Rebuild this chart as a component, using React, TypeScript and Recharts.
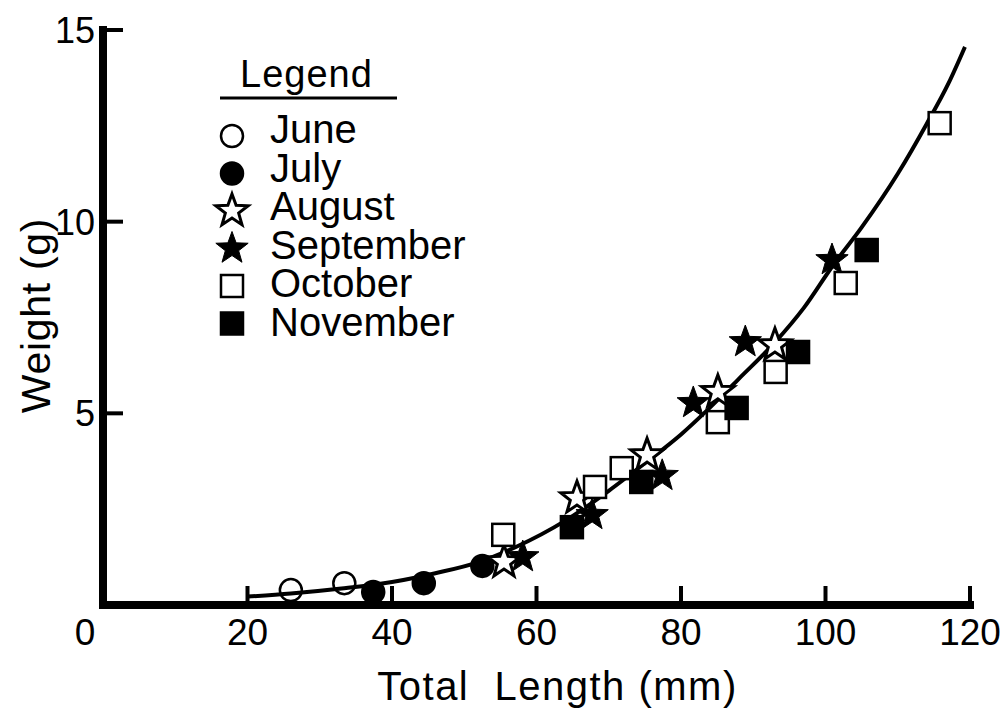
import React from "react";
import { ScatterChart, Scatter, XAxis, YAxis, Legend, Label } from "recharts";

type Pt = { x: number; y: number };

const xTicks = [0, 20, 40, 60, 80, 100, 120];
const yTicks = [5, 10, 15];

// total length (mm) vs weight (g)
const june: Pt[] = [
    { x: 26.0, y: 0.39 },
    { x: 33.4, y: 0.57 },
];
const july: Pt[] = [
    { x: 37.4, y: 0.34 },
    { x: 44.4, y: 0.57 },
    { x: 52.5, y: 1.02 },
];
const august: Pt[] = [
    { x: 55.5, y: 1.12 },
    { x: 65.6, y: 2.79 },
    { x: 75.3, y: 3.91 },
    { x: 85.1, y: 5.56 },
    { x: 93.0, y: 6.78 },
];
const september: Pt[] = [
    { x: 58.1, y: 1.25 },
    { x: 67.7, y: 2.35 },
    { x: 77.4, y: 3.37 },
    { x: 81.7, y: 5.27 },
    { x: 88.9, y: 6.86 },
    { x: 100.9, y: 9.0 },
];
const october: Pt[] = [
    { x: 55.4, y: 1.83 },
    { x: 68.1, y: 3.08 },
    { x: 71.8, y: 3.57 },
    { x: 85.1, y: 4.77 },
    { x: 93.1, y: 6.08 },
    { x: 102.8, y: 8.4 },
    { x: 115.8, y: 12.57 },
];
const november: Pt[] = [
    { x: 64.9, y: 2.03 },
    { x: 74.5, y: 3.21 },
    { x: 87.7, y: 5.14 },
    { x: 96.2, y: 6.6 },
    { x: 105.7, y: 9.26 },
];

// fitted curve
const curve: Pt[] = [
    { x: 20, y: 0.22 },
    { x: 26, y: 0.3 },
    { x: 33, y: 0.43 },
    { x: 40, y: 0.6 },
    { x: 46, y: 0.83 },
    { x: 52, y: 1.12 },
    { x: 57, y: 1.5 },
    { x: 64, y: 2.2 },
    { x: 70, y: 2.98 },
    { x: 75, y: 3.7 },
    { x: 80, y: 4.45 },
    { x: 84, y: 5.15 },
    { x: 88, y: 5.9 },
    { x: 93, y: 6.85 },
    { x: 97, y: 7.75 },
    { x: 101, y: 8.85 },
    { x: 105, y: 9.85 },
    { x: 110, y: 11.25 },
    { x: 114, y: 12.55 },
    { x: 117, y: 13.6 },
    { x: 119.3, y: 14.56 },
];

type Kind = "circle" | "star" | "square";

const months: { name: string; data: Pt[]; kind: Kind; filled: boolean }[] = [
    { name: "June", data: june, kind: "circle", filled: false },
    { name: "July", data: july, kind: "circle", filled: true },
    { name: "August", data: august, kind: "star", filled: false },
    { name: "September", data: september, kind: "star", filled: true },
    { name: "October", data: october, kind: "square", filled: false },
    { name: "November", data: november, kind: "square", filled: true },
];

const FONT = "'Liberation Sans', Arial, Helvetica, sans-serif";

function starPoints(cx: number, cy: number, R: number, r: number) {
    const pts: string[] = [];
    for (let i = 0; i < 10; i++) {
        const a = -Math.PI / 2 + (i * Math.PI) / 5;
        const rad = i % 2 === 0 ? R : r;
        pts.push(`${cx + rad * Math.cos(a)},${cy + rad * Math.sin(a)}`);
    }
    return pts.join(" ");
}

function Marker({ kind, filled, cx, cy }: { kind: Kind; filled: boolean; cx: number; cy: number }) {
    if (kind === "circle") {
        return (
            <circle cx={cx} cy={cy} r={11} fill={filled ? "#000" : "none"}
                stroke="#000" strokeWidth={2.5} />
        );
    }
    if (kind === "square") {
        return (
            <rect x={cx - 11} y={cy - 11} width={22} height={22}
                fill={filled ? "#000" : "#fff"} stroke="#000" strokeWidth={2.5} />
        );
    }
    return (
        <polygon points={starPoints(cx, cy, 17, 7)} fill={filled ? "#000" : "#fff"}
            stroke="#000" strokeWidth={filled ? 1 : 3} strokeLinejoin="miter" />
    );
}

const XTick = (props: any) => {
    const { x, y, payload } = props;
    const v = payload.value;
    return (
        <g>
            {v !== 0 && (
                <line x1={x} x2={x} y1={y} y2={y - 19} stroke="#000" strokeWidth={4} />
            )}
            <text x={v === 0 ? x - 18 : x} y={y + 40} textAnchor="middle"
                fontSize={37} fontFamily={FONT} fill="#000">
                {v}
            </text>
        </g>
    );
};

const YTick = (props: any) => {
    const { x, y, payload } = props;
    return (
        <g>
            <line x1={x} x2={x + 20} y1={y} y2={y} stroke="#000" strokeWidth={4} />
            <text x={x - 8} y={y + 13} textAnchor="end" fontSize={36}
                fontFamily={FONT} fill="#000">
                {payload.value}
            </text>
        </g>
    );
};

const XTitle = (props: any) => {
    const vb = props.viewBox;
    return (
        <text x={vb.x + vb.width / 2 + 21} y={vb.y + 95} textAnchor="middle"
            fontSize={40} letterSpacing={1.5} fontFamily={FONT} fill="#000"
            style={{ whiteSpace: "pre" }}>
            Total  Length (mm)
        </text>
    );
};

const YTitle = (props: any) => {
    const vb = props.viewBox;
    const cx = 50;
    const cy = vb.y + vb.height / 2 - 2;
    return (
        <text x={cx} y={cy} transform={`rotate(-90, ${cx}, ${cy})`} textAnchor="middle"
            fontSize={41} letterSpacing={0.7} fontFamily={FONT} fill="#000">
            Weight (g)
        </text>
    );
};

const LegendBox = () => (
    <svg width={560} height={350} style={{ display: "block", overflow: "visible" }}>
        <text x={240} y={87} fontSize={38} letterSpacing={1} fontFamily={FONT} fill="#000">
            Legend
        </text>
        <line x1={220} x2={397} y1={98} y2={98} stroke="#000" strokeWidth={3} />
        {months.map((m, i) => (
            <g key={m.name}>
                <Marker kind={m.kind} filled={m.filled} cx={232} cy={136 + i * 37.5} />
                <text x={270} y={143 + i * 38.6} fontSize={40} fontFamily={FONT} fill="#000">
                    {m.name}
                </text>
            </g>
        ))}
    </svg>
);

export default function App() {
    return (
        <div style={{ position: "absolute", left: 0, top: 0, background: "#fff" }}>
            <ScatterChart width={1004} height={709}
                margin={{ top: 30, right: 34, left: 0, bottom: 0 }}>
                <XAxis type="number" dataKey="x" domain={[0, 120]} ticks={xTicks}
                    interval={0} height={104} tickSize={0} tickMargin={0} tickLine={false}
                    tick={<XTick />}
                    axisLine={{ stroke: "#000", strokeWidth: 8, strokeLinecap: "square" }}>
                    <Label content={<XTitle />} />
                </XAxis>
                <YAxis type="number" dataKey="y" domain={[0, 15]} ticks={yTicks}
                    interval={0} width={103} tickSize={0} tickMargin={0} tickLine={false}
                    tick={<YTick />}
                    axisLine={{ stroke: "#000", strokeWidth: 8, strokeLinecap: "square" }}>
                    <Label content={<YTitle />} />
                </YAxis>
                <Legend layout="vertical" align="center" verticalAlign="middle"
                    wrapperStyle={{ left: 0, top: 0, width: 560, height: 350 }}
                    content={() => <LegendBox />} />
                <Scatter name="fit" data={curve} isAnimationActive={false}
                    line={{ stroke: "#000", strokeWidth: 4 }} lineJointType="monotoneX"
                    shape={() => <g />} legendType="none" />
                {months.map((m) => (
                    <Scatter key={m.name} name={m.name} data={m.data} isAnimationActive={false}
                        shape={(p: any) => <Marker kind={m.kind} filled={m.filled} cx={p.cx} cy={p.cy} />} />
                ))}
            </ScatterChart>
        </div>
    );
}
